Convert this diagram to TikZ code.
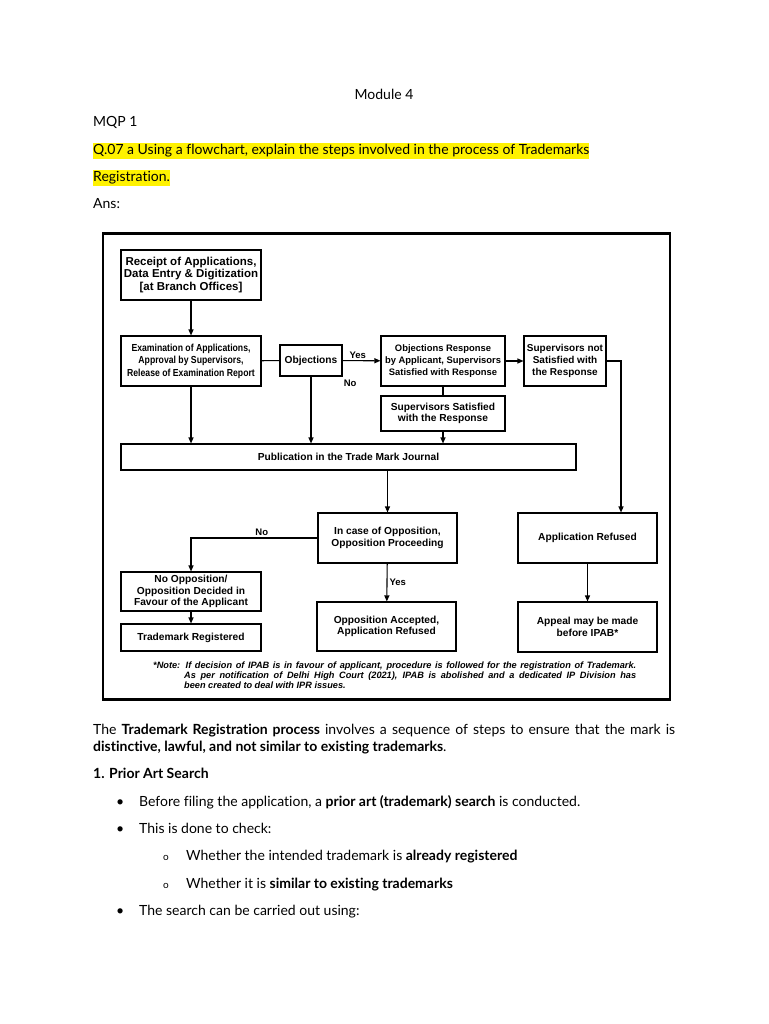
\documentclass[tikz,border=0pt]{standalone}
\usepackage{fontspec}
\setmainfont[Ligatures=NoCommon]{Lato}
\newfontfamily\chartfont{Liberation Sans}
\newfontfamily\narrowfont[FakeStretch=0.85]{Liberation Sans}
\usetikzlibrary{arrows.meta,positioning}

\begin{document}
\begin{tikzpicture}[x=1pt, y=-1pt, every node/.style={inner sep=0pt},
  txt/.style={anchor=base west, font=\fontsize{14}{17}\selectfont},
  hl/.style={txt, fill=yellow, text height=11pt, text depth=4pt, inner ysep=0.5pt},
  box/.style={draw, line width=1.1pt, align=center, font=\chartfont\bfseries\fontsize{10.2}{11.4}\selectfont},
  sz/.style 2 args={minimum width=#1pt, minimum height=#2pt},
  lbl/.style={inner sep=2pt, font=\chartfont\bfseries\fontsize{9.5}{11}\selectfont},
  note/.style={anchor=base west, font=\chartfont\bfseries\itshape\fontsize{9.2}{10}\selectfont},
  arr/.style={-{Triangle[length=6pt,width=5pt]}, line width=1.1pt},
  ln/.style={line width=1.1pt}]
\fill[white] (0,0) rectangle (768,1024);
\useasboundingbox (0,0) rectangle (768,1024);
% page text
\node[txt, anchor=base] (mod) at (384,100) {Module 4};
\node[txt] (mqp) at (93,127) {MQP 1};
\node[hl] (q1) at (93,154.5) {Q.07 a Using a flowchart, explain the steps involved in the process of Trademarks};
\node[hl] (q2) at (93,181.5) {Registration.};
\node[txt] (ans) at (93,209) {Ans:};
% flowchart
\node[draw, line width=2.4pt, sz={567}{466}] (frame) at (386.5,466.5) {};
\node[box, sz={140}{50}, font=\chartfont\bfseries\fontsize{11.5}{12.5}\selectfont] (rec) at (191,275) {Receipt of Applications,\\Data Entry \& Digitization\\{[at Branch Offices]}};
\node[box, sz={140}{50}, font=\narrowfont\bfseries\fontsize{10.2}{12.5}\selectfont] (exam) at (191,361) {Examination of Applications,\\Approval by Supervisors,\\Release of Examination Report};
\node[box, sz={62}{31}] (obj) at (311,360.5) {Objections};
\node[box, sz={124}{50}, font=\chartfont\bfseries\fontsize{9.4}{11.7}\selectfont] (resp) at (443,361) {Objections Response\\by Applicant, Supervisors\\Satisfied with Response};
\node[box, sz={82}{50}, font=\chartfont\bfseries\fontsize{10}{11.7}\selectfont] (notsat) at (565,361) {Supervisors not\\Satisfied with\\the Response};
\node[box, sz={124}{35}] (sat) at (443,413.5) {Supervisors Satisfied\\with the Response};
\node[box, sz={455}{26}] (pub) at (348.5,457) {Publication in the Trade Mark Journal};
\node[box, sz={139}{50}] (opp) at (387.5,538) {In case of Opposition,\\Opposition Proceeding};
\node[box, sz={139}{50}] (refused) at (587.5,538) {Application Refused};
\node[box, sz={140}{39}] (noopp) at (191,591.5) {No Opposition/\\Opposition Decided in\\Favour of the Applicant};
\node[box, sz={140}{27}] (reg) at (191,637.5) {Trademark Registered};
\node[box, sz={139}{49}] (acc) at (386.5,626.5) {Opposition Accepted,\\Application Refused};
\node[box, sz={139}{50}] (appeal) at (587.5,627) {Appeal may be made\\before IPAB*};
\coordinate (bend) at (621,361);
\draw[arr] (rec) -- (exam);
\draw[ln] (exam) -- (obj);
\draw[arr] (obj) -- (resp) node[lbl, above, pos=0.4] {Yes};
\draw[arr] (obj) -- (obj |- pub.north);
\node[lbl, anchor=north west, inner sep=0pt] (no1) at ([shift={(1,3)}]obj.south east) {No};
\draw[arr] (resp) -- (notsat);
\draw[ln] (resp) -- (sat);
\draw[arr] (sat) -- (sat |- pub.north);
\draw[arr] (exam) -- (exam |- pub.north);
\draw[arr] (notsat.east) -- (bend) -- (bend |- refused.north);
\draw[arr] (opp.north |- pub.south) -- (opp.north);
\draw[arr] (opp.west) -| (noopp.north) node[lbl, above, pos=0.22] {No};
\draw[arr] (noopp) -- (reg);
\draw[arr] (opp) -- (acc) node[lbl, right, pos=0.5] {Yes};
\draw[arr] (refused) -- (appeal);
\node[note] (n1) at (153,668) {\makebox[483pt][s]{*Note: If decision of IPAB is in favour of applicant, procedure is followed for the registration of Trademark.}};
\node[note] (n2) at (184,678) {\makebox[452pt][s]{As per notification of Delhi High Court (2021), IPAB is abolished and a dedicated IP Division has}};
\node[note] (n3) at (184,688) {been created to deal with IPR issues.};
% answer text
\node[txt] (p1) at (93,734) {\makebox[582pt][s]{The \textbf{Trademark Registration process} involves a sequence of steps to ensure that the mark is}};
\node[txt] (p2) at (93,751) {\textbf{distinctive, lawful, and not similar to existing trademarks}.};
\node[txt] (h1) at (93,778) {\textbf{1. Prior Art Search}};
\node[txt] (d1) at (116,806.5) {\textbullet};
\node[txt] (b1) at (139,806.5) {Before filing the application, a \textbf{prior art (trademark) search} is conducted.};
\node[txt] (d2) at (116,833.5) {\textbullet};
\node[txt] (b2) at (139,833.5) {This is done to check:};
\node[txt, font=\fontsize{10}{12}\selectfont] (o1) at (163,860.5) {o};
\node[txt] (s1) at (186,860.5) {Whether the intended trademark is \textbf{already registered}};
\node[txt, font=\fontsize{10}{12}\selectfont] (o2) at (163,888) {o};
\node[txt] (s2) at (186,888) {Whether it is \textbf{similar to existing trademarks}};
\node[txt] (d3) at (116,915.5) {\textbullet};
\node[txt] (b3) at (139,915.5) {The search can be carried out using:};
\end{tikzpicture}
\end{document}
